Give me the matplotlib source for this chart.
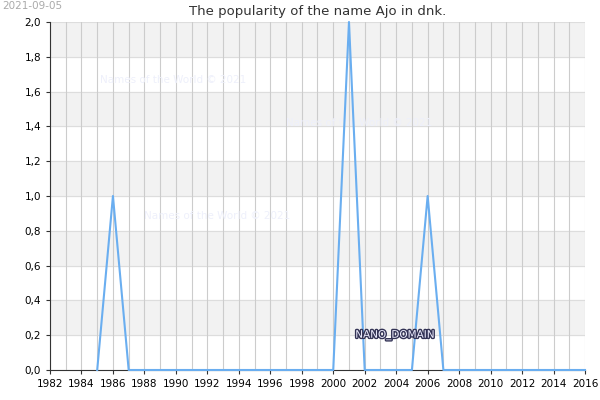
import matplotlib
matplotlib.use("Agg")
import matplotlib.pyplot as plt
import matplotlib.patheffects as pe

years = list(range(1985, 2017))
values = [0, 1, 0] + [0]*13 + [2, 0, 0, 0, 0, 1, 0] + [0]*9
xticks = list(range(1982, 2017, 2))
yticks = [i/5 for i in range(11)]

fig = plt.figure(figsize=(6, 4), dpi=100)
ax = fig.add_axes([50/600, 30/400, 535/600, 348/400])
ax.set_xlim(1982, 2016)
ax.set_ylim(0, 2)
for i in range(10):
    if i % 2 == 1:
        ax.axhspan(i*0.2, (i+1)*0.2, color="#f2f2f2", zorder=0)
for y in yticks:
    ax.axhline(y, color="#dddddd", lw=0.8, zorder=1)
for x in range(1982, 2017):
    ax.axvline(x, color="#cccccc", lw=0.8, zorder=1)
ax.plot(years, values, color="#6aaef0", lw=1.5, zorder=3, clip_on=False)
ax.set_xticks(xticks)
ax.set_xticklabels([str(x) for x in xticks], fontsize=7.5)
ax.set_yticks(yticks)
ax.set_yticklabels([f"{y:.1f}".replace(".", ",") for y in yticks], fontsize=7.5)
for s in ["top", "right"]:
    ax.spines[s].set_visible(False)
ax.spines["left"].set_color("#333333")
ax.spines["bottom"].set_color("#333333")
ax.tick_params(length=3, color="#333333")
ax.set_title("The popularity of the name Ajo in dnk.", fontsize=9.5, color="#333333", pad=5)
fig.text(2/600, 1-6/400, "2021-09-05", fontsize=7.5, color="#aaaaaa", va="center")
for (x, y) in [(1985.2, 1.65), (1997, 1.40), (1988, 0.87)]:
    ax.text(x, y, "Names of the World © 2021", fontsize=7.5, color="#eef0fb", zorder=2)
ax.text(2001.4, 0.2, "NANO_DOMAIN", fontsize=7.5, color="#eeeeff", va="center", zorder=4,
        path_effects=[pe.withStroke(linewidth=2, foreground="#333355")])
fig.savefig("out.png", dpi=100)
